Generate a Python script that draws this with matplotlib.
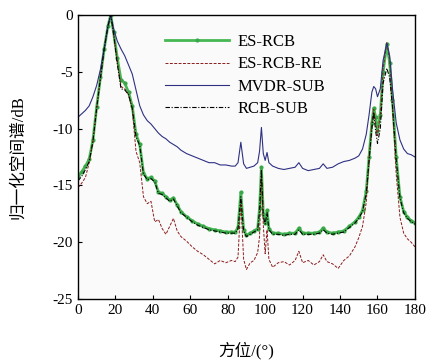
import numpy as np
import matplotlib
matplotlib.use("Agg")
import matplotlib.pyplot as plt

plt.rcParams['font.family'] = ['Liberation Serif', 'Noto Sans CJK SC']
plt.rcParams['axes.unicode_minus'] = False

# 方位角 (度)
ang = [0, 2, 4, 6, 8, 10, 12, 14, 16, 17.5, 19, 21, 23, 25, 27, 29, 31, 33, 35, 37,
       39, 41, 43, 45, 47, 49, 51, 53, 55, 58, 61, 64, 67, 70, 73, 76, 79, 82, 84, 85.5,
       87, 88.5, 90, 92, 94, 96, 97, 98, 99, 100, 101, 102, 104, 107, 110, 113, 116, 118, 120, 123,
       126, 129, 131, 133, 136, 139, 142, 145, 148, 150, 152, 154, 155.5, 157, 158, 159, 160, 161.5, 163, 165,
       166.5, 168, 170, 172, 174, 176, 178, 180]

es_rcb = [-14.2, -13.8, -13.3, -12.7, -11.0, -8.1, -5.5, -3.0, -1.0, 0, -1.5, -3.8, -5.7, -6.0, -6.8, -8.0, -10.5, -11.4, -13.9, -14.4,
          -14.3, -14.6, -15.6, -15.7, -16.0, -16.3, -16.1, -16.7, -17.3, -17.75, -18.1, -18.4, -18.6, -18.8, -18.9, -19.0, -19.1, -19.1, -19.1, -18.7,
          -15.6, -18.9, -19.4, -19.2, -19.0, -18.8, -17.0, -13.4, -17.5, -18.3, -17.2, -18.8, -19.2, -19.2, -19.3, -19.2, -19.2, -18.75, -19.2, -19.2,
          -19.2, -19.1, -18.75, -19.1, -19.2, -19.1, -19.0, -18.6, -18.2, -17.8, -17.2, -15.5, -12.5, -9.5, -8.2, -9.0, -10.2, -8.8, -5.0, -2.6,
          -4.2, -7.5, -12.5, -16.0, -17.3, -17.8, -18.1, -18.3]

es_rcb_re = [-15.2, -14.8, -14.3, -13.0, -11.2, -8.2, -5.5, -3.0, -1.0, 0, -1.6, -4.0, -6.3, -6.5, -7.0, -8.3, -12.0, -13.0, -16.0, -16.6,
             -16.4, -18.2, -18.0, -18.8, -19.3, -18.6, -17.9, -19.0, -19.5, -19.9, -20.4, -20.8, -21.1, -21.5, -21.9, -21.6, -21.8, -21.6, -21.7, -21.3,
             -16.4, -21.5, -22.4, -21.8, -21.6, -20.9, -19.5, -13.9, -18.5, -21.0, -18.9, -21.5, -22.2, -21.8, -21.7, -22.0, -21.6, -20.8, -21.8, -21.6,
             -22.0, -21.7, -21.1, -21.7, -21.9, -22.3, -21.6, -21.2, -20.4, -19.6, -18.6, -16.5, -12.8, -9.5, -8.3, -9.5, -10.6, -8.8, -4.8, -2.4,
             -4.0, -8.0, -14.0, -17.8, -19.2, -19.7, -20.0, -20.4]

mvdr_sub = [-9.0, -8.7, -8.4, -8.0, -7.2, -6.2, -4.8, -3.0, -1.0, 0, -1.2, -2.3, -3.0, -3.6, -4.4, -5.2, -6.6, -8.0, -8.8, -9.3,
            -9.6, -10.0, -10.4, -10.7, -10.9, -11.2, -11.4, -11.6, -11.9, -12.2, -12.4, -12.6, -12.8, -13.0, -13.0, -13.2, -13.2, -13.3, -13.3, -13.0,
            -11.2, -13.1, -13.5, -13.4, -13.3, -13.0, -12.0, -9.9, -12.2, -12.8, -12.1, -13.0, -13.3, -13.5, -13.6, -13.5, -13.4, -13.0, -13.5, -13.7,
            -13.6, -13.5, -13.1, -13.5, -13.4, -13.1, -12.9, -12.8, -12.6, -12.4, -11.8, -10.5, -8.8, -6.8, -6.3, -6.5, -7.2, -6.5, -4.0, -2.5,
            -3.6, -6.5, -9.5, -11.0, -11.8, -12.2, -12.3, -12.5]

rcb_sub = [-14.6, -14.2, -13.6, -12.9, -11.1, -8.2, -5.6, -3.0, -1.0, 0, -1.6, -4.3, -6.5, -6.6, -7.0, -8.2, -10.7, -11.5, -14.0, -14.5,
           -14.4, -14.7, -15.7, -15.8, -16.1, -16.4, -16.2, -16.8, -17.4, -17.8, -18.2, -18.5, -18.7, -18.9, -19.0, -19.1, -19.2, -19.2, -19.2, -18.8,
           -16.0, -19.0, -19.5, -19.3, -19.1, -18.9, -17.2, -13.6, -17.7, -18.4, -17.4, -18.9, -19.3, -19.3, -19.4, -19.3, -19.3, -18.9, -19.3, -19.3,
           -19.3, -19.2, -18.9, -19.2, -19.3, -19.2, -19.1, -18.7, -18.3, -17.9, -17.3, -15.7, -12.8, -10.0, -8.6, -10.2, -11.3, -10.0, -6.0, -4.7,
           -5.5, -8.0, -12.7, -16.1, -17.4, -17.9, -18.2, -18.4]

fig = plt.figure(figsize=(4.26, 3.63), dpi=100)
ax = fig.add_axes([0.183, 0.176, 0.791, 0.783])
ax.set_facecolor('#fafafa')

ax.plot(ang, es_rcb, color='#45b853', lw=2.0, marker='o', ms=2.0, mfc='#3aa848', mec='#3aa848', label='ES-RCB')
ax.plot(ang, es_rcb_re, color='#8b1c1c', lw=0.7, ls=(0, (3, 1.5)), label='ES-RCB-RE')
ax.plot(ang, mvdr_sub, color='#2e3182', lw=0.8, label='MVDR-SUB')
ax.plot(ang, rcb_sub, color='black', lw=0.8, ls=(0, (4, 1.5, 1, 1.5)), label='RCB-SUB')

ax.set_xlim(0, 180)
ax.set_ylim(-25, 0)
ax.set_xticks(np.arange(0, 181, 20))
ax.set_yticks(np.arange(-25, 1, 5))
ax.tick_params(direction='in', length=3, labelsize=11, width=0.8)
for s in ax.spines.values():
    s.set_linewidth(1.0)

ax.set_xlabel('方位/(°)', fontsize=12, labelpad=18)
ax.set_ylabel('归一化空间谱/dB', fontsize=12, labelpad=19)

ax.legend(loc='upper left', bbox_to_anchor=(0.215, 0.985), frameon=False, fontsize=12,
          handlelength=3.8, labelspacing=0.38, numpoints=1, handletextpad=0.5)

fig.savefig('out.png', dpi=100)
